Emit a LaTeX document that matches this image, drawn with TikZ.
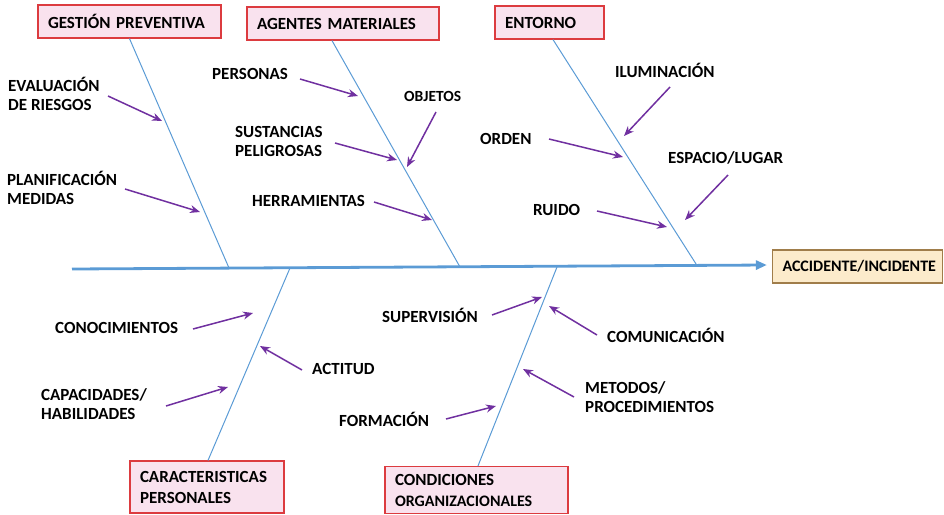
\documentclass[tikz,border=0pt]{standalone}
\usepackage{fontspec}
\setmainfont{Carlito}[BoldFont={Carlito Bold}]
\usetikzlibrary{arrows.meta}

\definecolor{rojocaja}{HTML}{DC3B3F}
\definecolor{rosacaja}{HTML}{F9E2EE}
\definecolor{marroncaja}{HTML}{A07D4A}
\definecolor{crema}{HTML}{FCEBCB}
\definecolor{azulespina}{HTML}{5B9BD5}
\definecolor{morado}{HTML}{7030A0}

\begin{document}
\begin{tikzpicture}[x=1pt,y=-1pt,
  causa/.style={draw=rojocaja, fill=rosacaja, line width=1.2pt, align=left,
    inner xsep=10pt, font=\bfseries\fontsize{17}{21}\selectfont},
  efecto/.style={causa, draw=marroncaja, fill=crema, font=\bfseries\fontsize{16}{20}\selectfont},
  etiqueta/.style={anchor=west, inner sep=0pt, align=left,
    font=\bfseries\fontsize{17}{19}\selectfont},
  espina/.style={draw=azulespina, line width=1pt},
  eje/.style={draw=azulespina, line width=2.8pt, -{Triangle[length=11pt,width=9pt]}},
  flecha/.style={draw=morado, line width=1.5pt, -{Stealth[length=10pt,width=8pt]}}]
  \useasboundingbox (0,0) rectangle (944,514);

  % cajas de causas
  \node[causa, text width=163pt, minimum height=33pt] (gp) at (129.5,21.5) {GESTIÓN PREVENTIVA};
  \node[causa, text width=172pt, minimum height=33pt] (am) at (343,23.5) {AGENTES MATERIALES};
  \node[causa, text width=89pt, minimum height=33pt] (en) at (549.5,22.5) {ENTORNO};
  \node[causa, text width=134pt, minimum height=52pt] (cp) at (207,487) {CARACTERISTICAS\\PERSONALES};
  \node[causa, text width=163pt, minimum height=47pt] (co) at (476.5,490)
    {CONDICIONES\\{\fontsize{16}{14}\selectfont ORGANIZACIONALES}};
  \node[efecto, text width=150pt, minimum height=33pt] (ai) at (857.5,266.5) {ACCIDENTE/INCIDENTE};

  % espina central
  \coordinate (cola) at (72,269);
  \draw[eje] (cola) -- ([xshift=-5pt,yshift=1.5pt]ai.west);

  \coordinate (s1) at (229,268);
  \coordinate (s2) at (460,267);
  \coordinate (s3) at (697,265.5);
  \coordinate (s4) at (290,268);
  \coordinate (s5) at (557,267);
  \draw[espina] (gp.south) -- (s1);
  \draw[espina] ([xshift=-11pt]am.south) -- (s2);
  \draw[espina] ([xshift=3.5pt]en.south) -- (s3);
  \draw[espina] ([xshift=1pt]cp.north) -- (s4);
  \draw[espina] ([xshift=1.5pt]co.north) -- (s5);

  % subcausas
  \node[etiqueta] (ev) at (8,94) {EVALUACIÓN\\DE RIESGOS};
  \node[etiqueta] (pm) at (7,188) {PLANIFICACIÓN\\MEDIDAS};
  \node[etiqueta] (pe) at (212,74) {PERSONAS};
  \node[etiqueta, font=\bfseries\fontsize{15.5}{16}\selectfont] (ob) at (404,96) {OBJETOS};
  \node[etiqueta] (su) at (235,141) {SUSTANCIAS\\PELIGROSAS};
  \node[etiqueta] (he) at (252,201) {HERRAMIENTAS};
  \node[etiqueta] (il) at (615,70) {ILUMINACIÓN};
  \node[etiqueta] (or) at (480,139) {ORDEN};
  \node[etiqueta] (es) at (668,158) {ESPACIO/LUGAR};
  \node[etiqueta] (ru) at (533,210) {RUIDO};
  \node[etiqueta] (cn) at (55,328) {CONOCIMIENTOS};
  \node[etiqueta] (ac) at (312,369) {ACTITUD};
  \node[etiqueta] (ca) at (41,404) {CAPACIDADES/\\HABILIDADES};
  \node[etiqueta] (sp) at (382,315) {SUPERVISIÓN};
  \node[etiqueta] (cm) at (607,335) {COMUNICACIÓN};
  \node[etiqueta] (me) at (585,397) {METODOS/\\PROCEDIMIENTOS};
  \node[etiqueta] (fo) at (339,419) {FORMACIÓN};

  % flechas hacia las espinas
  \foreach \n/\x/\y/\u/\v in {ev/108/96/162/121, pm/125/189/200/212,
      pe/300/79/358/96, ob/436/112/407/167, su/335/143/397/160,
      he/374/202/432/220, il/670/87/624/136, or/549/139/623/157,
      es/728/175/685/220, ru/597/211/667/227, cn/193/329/253/313,
      ac/302/370/260/346, ca/166/406/228/387, sp/492/315/542/297,
      cm/597/335/549/306, me/574/397/523/369, fo/446/419/496/406}{
    \coordinate (\n-a) at (\x,\y);
    \coordinate (\n-b) at (\u,\v);
    \draw[flecha] (\n-a) -- (\n-b);
  }
\end{tikzpicture}
\end{document}
